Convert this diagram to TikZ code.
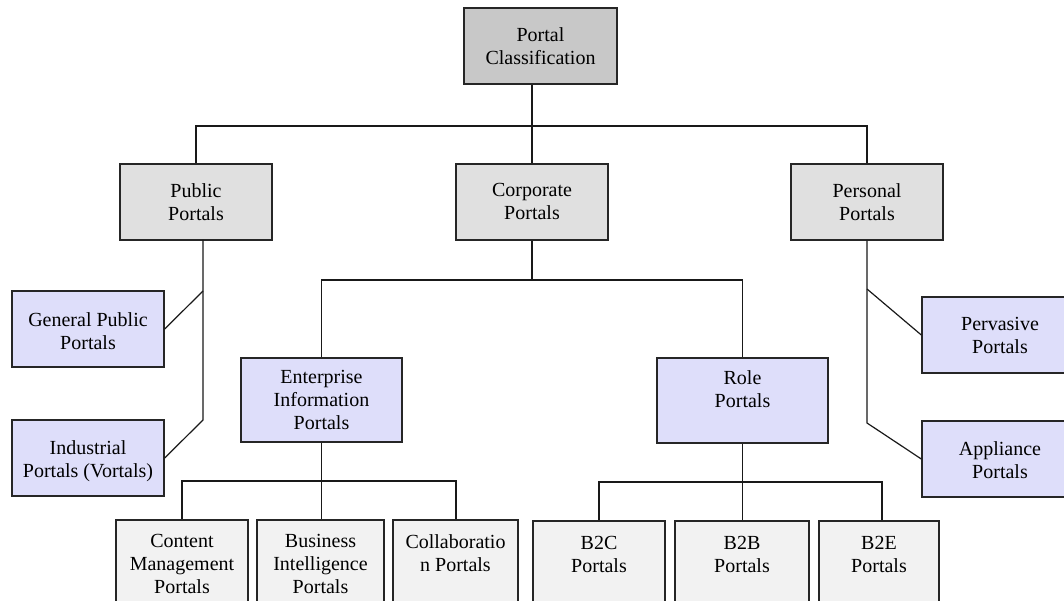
\documentclass[tikz,border=0pt]{standalone}
\usepackage{fontspec}
\setmainfont{Liberation Serif}
\definecolor{rootgray}{RGB}{200,200,200}
\definecolor{midgray}{RGB}{224,224,224}
\definecolor{lav}{RGB}{222,222,250}
\definecolor{lightgray}{RGB}{242,242,242}
\tikzset{
  boxbase/.style={draw=black!85, line width=1.4pt, inner sep=0pt},
  rootbox/.style={boxbase, fill=rootgray},
  midbox/.style={boxbase, fill=midgray},
  lavbox/.style={boxbase, fill=lav},
  leafbox/.style={boxbase, fill=lightgray},
  lbl/.style={anchor=north, inner sep=0pt, align=center,
    font=\fontsize{20}{23}\selectfont},
  conn/.style={draw=black!90, line width=1.2pt},
}
\newcommand\pbox[8]{%
  \node[#2, minimum width={#5pt-#3pt}, minimum height={#6pt-#4pt}] (#1) at ({(#3+#5)/2},{(#4+#6)/2}) {};
  \node[lbl] (#1-t) at ({(#3+#5)/2},{#4+#7}) {#8};
}
\begin{document}
\begin{tikzpicture}[x=1pt,y=-1pt]
\useasboundingbox (0,0) rectangle (1064,601);
\clip (0,0) rectangle (1064,601);
\coordinate (l1) at (196,126);
\coordinate (l2) at (867,126);
\coordinate (m1) at (532,126);
\pbox{root}{rootbox}{464}{8}{617}{84}{19.5}{Portal\\Classification}
\pbox{pub}{midbox}{120}{164}{272}{240}{19.5}{Public\\Portals}
\pbox{corp}{midbox}{456}{164}{608}{240}{19.5}{Corporate\\Portals}
\pbox{pers}{midbox}{791}{164}{943}{240}{19.5}{Personal\\Portals}
\pbox{gen}{lavbox}{12}{291}{164}{367}{21}{General Public\\Portals}
\pbox{ind}{lavbox}{12}{420}{164}{496}{20.5}{Industrial\\Portals (Vortals)}
\pbox{perv}{lavbox}{922}{297}{1078}{373}{20.5}{Pervasive\\Portals}
\pbox{appl}{lavbox}{922}{421}{1078}{497}{20.5}{Appliance\\Portals}
\pbox{eip}{lavbox}{241}{358}{402}{442}{12.5}{Enterprise\\Information\\Portals}
\pbox{role}{lavbox}{657}{358}{828}{443}{12.5}{Role\\Portals}
\pbox{cm}{leafbox}{116}{520}{248}{660}{14}{Content\\Management\\Portals}
\pbox{bi}{leafbox}{257}{520}{384}{660}{14.5}{Business\\Intelligence\\Portals}
\pbox{col}{leafbox}{393}{520}{518}{660}{14}{Collaboratio\\n Portals}
\pbox{b2c}{leafbox}{533}{521}{665}{660}{15.5}{B2C\\Portals}
\pbox{b2b}{leafbox}{675}{521}{809}{660}{15.5}{B2B\\Portals}
\pbox{b2e}{leafbox}{819}{521}{939}{660}{15.5}{B2E\\Portals}
% top level connectors
\draw[conn] (root.south -| m1) -- (m1);
\draw[conn] (pub.north) |- (l1) -- (l2) -| (pers.north);
\draw[conn] (m1) -- (corp.north);
% public branch
\coordinate (pubtop) at (203,240);
\coordinate (pubj1) at (203,291);
\coordinate (pubj2) at (203,420);
\draw[conn] (pubtop) -- (pubj2) -- (ind.east |- 0,458);
\draw[conn] (pubj1) -- (gen.east |- 0,329);
% personal branch
\coordinate (persj1) at (867,289);
\coordinate (persj2) at (867,423);
\draw[conn] (pers.south) -- (persj2) -- (appl.west |- 0,459);
\draw[conn] (persj1) -- (perv.west |- 0,335);
% corporate branch
\coordinate (cj) at (532,280);
\draw[conn] (corp.south) -- (cj);
\draw[conn] (eip.north) |- (cj) -| (role.north);
% enterprise branch
\coordinate (ej) at (321.5,481);
\draw[conn] (eip.south) -- (ej);
\draw[conn] (cm.north -| 182,0) -- (182,481) -- (456,481) -- (col.north -| 456,0);
\draw[conn] (ej) -- (bi.north -| ej);
% role branch
\coordinate (rj) at (742.5,482);
\draw[conn] (role.south) -- (rj);
\draw[conn] (b2c.north -| 599,0) -- (599,482) -- (882,482) -- (b2e.north -| 882,0);
\draw[conn] (rj) -- (b2b.north -| rj);
\end{tikzpicture}
\end{document}
